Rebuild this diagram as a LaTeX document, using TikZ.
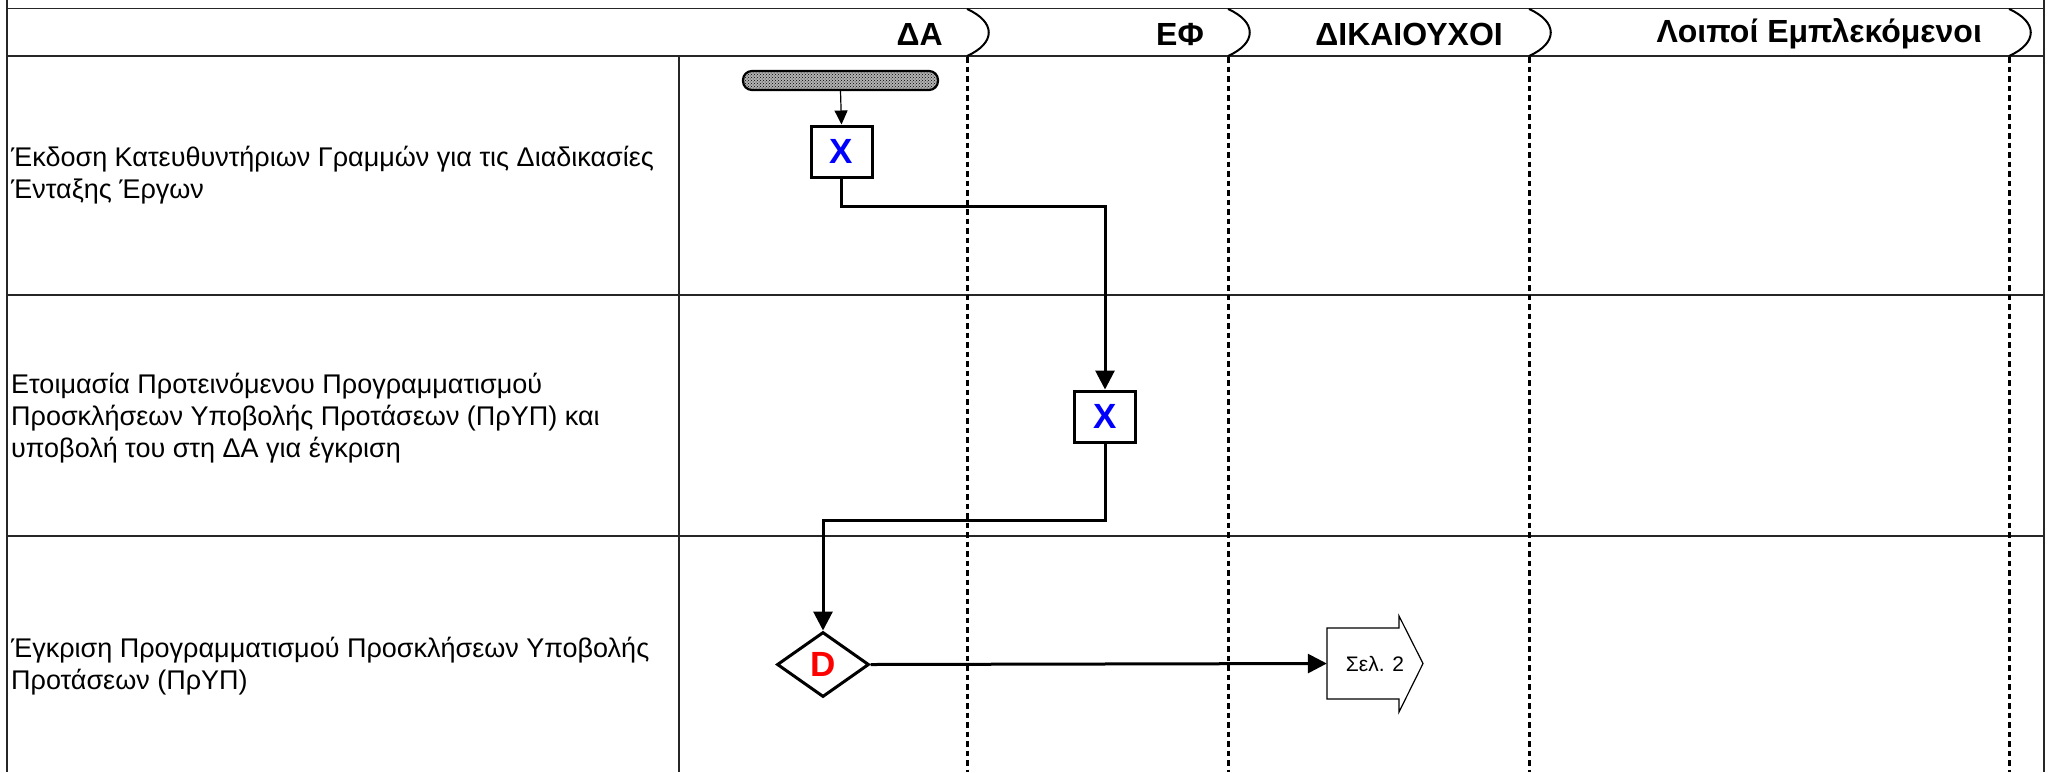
\documentclass[tikz,border=0pt]{standalone}
\usepackage{fontspec}
\setmainfont{Liberation Sans}
\usetikzlibrary{arrows.meta,shapes.geometric,patterns}

\begin{document}
\begin{tikzpicture}[x=1pt,y=-1pt,
  grid/.style={line width=1.6pt,draw=black!85},
  lane/.style={line width=3pt,dash pattern=on 5.5pt off 4pt,draw=black},
  bracket/.style={line width=2pt,draw=black},
  hdr/.style={font=\fontsize{32}{36}\selectfont\bfseries,anchor=east,inner sep=0pt},
  task/.style={font=\fontsize{27}{32}\selectfont,anchor=west,align=left,inner sep=0pt},
  actbox/.style={draw,line width=3pt,minimum width=61pt,minimum height=51pt,inner sep=0pt,
    font=\fontsize{35}{35}\selectfont\bfseries,text=blue},
  decision/.style={diamond,draw,line width=3pt,minimum width=92pt,minimum height=65pt,inner sep=0pt,
    font=\fontsize{35}{35}\selectfont\bfseries,text=red},
  flow/.style={line width=3pt,-{Triangle[length=19pt,width=19pt]}},
]
\useasboundingbox (0,0) rectangle (2049,772);

% table frame
\draw[grid] (7,0) -- (7,772);
\draw[grid] (2044,0) -- (2044,772);
\draw[grid] (7,8.5) -- (2044,8.5);
\draw[grid] (7,56) -- (2044,56);
\draw[grid] (7,295) -- (2044,295);
\draw[grid] (7,536) -- (2044,536);
\draw[grid] (679,56) -- (679,772);

% swimlane separators and header brackets
\foreach \d in {967,1228,1529,2009}{
  \draw[lane] (\d,57) -- (\d,772);
  \draw[bracket] (\d,9) .. controls (\d+29,22) and (\d+29,43) .. (\d,56);
}

% lane headers
\node[hdr] (hDA) at (943,34) {ΔΑ};
\node[hdr] (hEF) at (1204,34) {ΕΦ};
\node[hdr] (hDK) at (1503,34) {ΔΙΚΑΙΟΥΧΟΙ};
\node[hdr] (hLE) at (1982,34) {Λοιποί Εμπλεκόμενοι};

% task descriptions
\node[task] (t1) at (11,175) {Έκδοση Κατευθυντήριων Γραμμών για τις Διαδικασίες\\Ένταξης Έργων};
\node[task] (t2) at (11,418) {Ετοιμασία Προτεινόμενου Προγραμματισμού\\Προσκλήσεων Υποβολής Προτάσεων (ΠρΥΠ) και\\υποβολή του στη ΔΑ για έγκριση};
\node[task] (t3) at (11,666) {Έγκριση Προγραμματισμού Προσκλήσεων Υποβολής\\Προτάσεων (ΠρΥΠ)};

% start bar
\node[draw,line width=2.2pt,rounded corners=9pt,minimum width=195pt,minimum height=19pt,inner sep=0pt,
  preaction={fill=gray!60},pattern=crosshatch dots,pattern color=black] (start) at (840.5,80.5) {};

% activities
\node[actbox] (x1) at (841.5,151.5) {X};
\node[actbox] (x2) at (1105,416.5) {X};
\node[decision] (d) at (823,664.5) {D};

% off-page connector
\node[inner sep=0pt,minimum width=96pt,minimum height=71pt,font=\fontsize{21}{21}\selectfont] (pg) at (1375,663.5) {Σελ. 2};
\draw[line width=1.2pt,line join=miter] (1327,628) -- (1399,628) -- (1399,616) -- (1423,663.5)
  -- (1399,712) -- (1399,699) -- (1327,699) -- cycle;

% connectors
\draw[line width=1.2pt,-{Triangle[length=14pt,width=13pt]}] (start.south) -- (x1.north);
\draw[flow] (x1.south) -- ++(0,28) -| (x2.north);
\draw[flow] (x2.south) -- ++(0,77) -| (d.north);
\draw[flow] (d.east) -- (pg.west);
\end{tikzpicture}
\end{document}
